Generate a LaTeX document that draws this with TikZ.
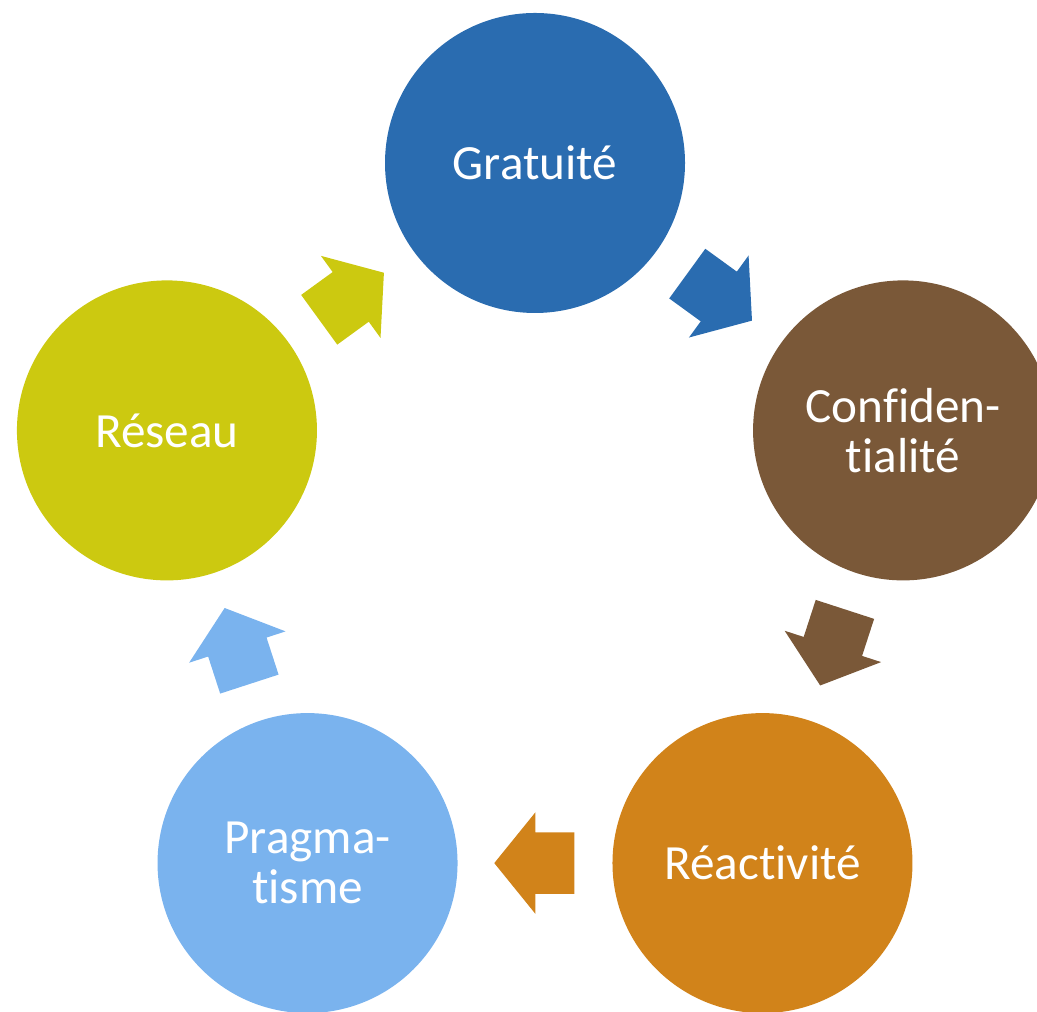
\documentclass[tikz,border=0pt]{standalone}
\usepackage{fontspec}
\setmainfont{Carlito}[Ligatures=NoCommon]
\usetikzlibrary{shapes.arrows,calc}
\definecolor{gblue}{RGB}{42,108,176}
\definecolor{cbrown}{RGB}{122,88,56}
\definecolor{rorange}{RGB}{209,131,26}
\definecolor{plight}{RGB}{122,179,238}
\definecolor{syellow}{RGB}{204,201,16}
\tikzset{main node/.style={circle,draw=none,minimum size=3cm,inner sep=0pt,text=white,align=center,font=\fontsize{14}{14.2}\selectfont},
         flow arrow/.style={single arrow,draw=none,anchor=tail,minimum height=8mm,inner xsep=0pt,inner ysep=3mm,single arrow head extend=2mm,single arrow tip angle=102}
}

\begin{document}
\begin{tikzpicture}
\useasboundingbox (0,0) rectangle (10.37,10.11);
\clip (0,0) rectangle (10.37,10.11);
\begin{scope}[shift={(5.35,4.61)}]
\node [main node, fill=gblue] (grat) at (90:3.87) {Gratuit\'e};
\node [main node, fill=cbrown] (conf) at (18:3.87) {Confiden-\\tialit\'e};
\node [main node, fill=rorange] (reac) at (-54:3.87) {R\'eactivit\'e};
\node [main node, fill=plight] (prag) at (-126:3.87) {Pragma-\\tisme};
\node [main node, fill=syellow] (rese) at (162:3.87) {R\'eseau};
\end{scope}
% tails sit 4mm before the middle of each chord
\node [flow arrow, fill=gblue, rotate=-36] (a1) at ($(grat)!1.875cm!(conf)$) {};
\node [flow arrow, fill=cbrown, rotate=-108] (a2) at ($(conf)!1.875cm!(reac)$) {};
\node [flow arrow, fill=rorange, rotate=180] (a3) at ($(reac)!1.875cm!(prag)$) {};
\node [flow arrow, fill=plight, rotate=108] (a4) at ($(prag)!1.875cm!(rese)$) {};
\node [flow arrow, fill=syellow, rotate=36] (a5) at ($(rese)!1.875cm!(grat)$) {};
\end{tikzpicture}
\end{document}
